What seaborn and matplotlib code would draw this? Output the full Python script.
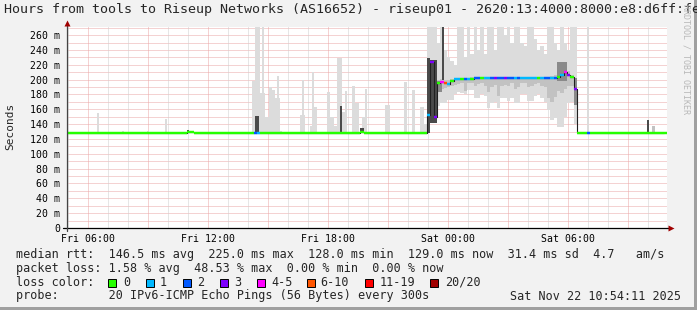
import numpy as np
import pandas as pd
import matplotlib
matplotlib.use("Agg")
import matplotlib.pyplot as plt
from matplotlib.patches import Rectangle
import matplotlib.dates as mdates
import seaborn as sns

sns.set_style("white")
plt.rcParams['font.family'] = ['DejaVu Sans Mono', 'DejaVu Sans']
plt.rcParams['lines.scale_dashes'] = False

# ---------------- data ----------------
start_time = "2025-11-21 04:58"
span_hours = 30

# median rtt (ms), one value per 10 minutes
median_ms = [
    127.5, 127.5, 127.5, 127.5, 127.5, 127.5, 127.5, 127.5, 127.5, 127.5,
    127.5, 127.5, 127.5, 127.5, 127.5, 127.5, 127.5, 127.5, 127.5, 127.5,
    127.5, 127.5, 127.5, 127.5, 127.5, 127.5, 127.5, 127.5, 127.5, 127.5,
    127.5, 127.5, 127.5, 127.5, 127.5, 127.5, 129, 130, 128, 127.5,
    127.5, 127.5, 127.5, 127.5, 127.5, 127.5, 127.5, 127.5, 127.5, 127.5,
    127.5, 127.5, 127.5, 128, 128, 128, 128, 128, 128, 128,
    128, 128, 128, 128, 128, 128, 128, 128, 128, 128,
    128, 128, 128, 128, 128, 128, 128, 128, 128, 128,
    128, 128, 128, 128, 128, 128, 128, 128, 130, 128,
    128, 128, 128, 128, 128, 128, 128, 128, 128, 128,
    128, 128, 128, 128, 128, 128, 128, 128, 152, 224,
    150, 195, 197, 195, 194, 198, 201, 201, 201, 201,
    201, 201, 202, 202, 202, 202, 202, 202, 202, 202,
    202, 202, 202, 202, 202, 202, 202, 202, 202, 202,
    202, 202, 202, 202, 202, 202, 202, 203, 206, 211,
    206, 203, 188, 128, 128, 128, 128, 128, 128, 128,
    128, 128, 128, 128, 128, 128, 128, 128, 128, 128,
    128, 128, 128, 128, 128, 128, 128, 128, 128, 128,
]

# lost pings (out of 20) per 10 minutes
loss_count = [
    0, 0, 0, 0, 0, 0, 0, 0, 0, 0,
    0, 0, 0, 0, 0, 0, 0, 0, 0, 0,
    0, 0, 0, 0, 0, 0, 0, 0, 0, 0,
    0, 0, 0, 0, 0, 0, 0, 0, 0, 0,
    0, 0, 0, 0, 0, 0, 0, 0, 0, 0,
    0, 0, 0, 0, 0, 0, 2, 1, 0, 0,
    0, 0, 0, 0, 0, 0, 0, 0, 0, 0,
    0, 0, 0, 0, 0, 0, 0, 0, 0, 0,
    0, 0, 0, 0, 0, 0, 0, 0, 0, 0,
    0, 0, 0, 0, 0, 0, 0, 0, 0, 0,
    0, 0, 0, 0, 0, 0, 0, 0, 1, 3,
    3, 0, 4, 6, 1, 0, 1, 1, 0, 2,
    1, 0, 2, 2, 0, 1, 1, 2, 3, 2,
    2, 3, 2, 2, 1, 2, 1, 1, 1, 1,
    1, 0, 1, 2, 2, 1, 2, 0, 1, 4,
    3, 0, 3, 0, 0, 0, 2, 0, 0, 0,
    0, 0, 0, 0, 0, 0, 0, 0, 0, 0,
    0, 0, 0, 0, 0, 0, 0, 0, 0, 0,
]

# smoke columns: (5-minute slot, number of slots, low ms, high ms)
smoke_light = [
    (18, 1, 128, 155), (33, 1, 128, 131), (48, 1, 128, 131), (59, 1, 128, 147),
    (73, 3, 128, 131), (91, 1, 128, 130), (111, 2, 128, 198), (113, 2, 128, 275),
    (115, 1, 128, 275), (116, 1, 128, 182), (117, 1, 128, 275), (118, 1, 128, 182),
    (119, 2, 128, 150), (121, 2, 128, 190), (123, 2, 128, 186), (125, 1, 128, 175),
    (126, 1, 128, 205), (127, 1, 128, 175), (128, 1, 128, 131), (140, 1, 128, 152),
    (141, 1, 128, 200), (142, 1, 128, 152), (146, 1, 128, 138), (147, 1, 128, 211),
    (148, 2, 128, 163), (156, 2, 128, 183), (158, 2, 128, 150), (160, 2, 128, 138),
    (162, 3, 128, 229), (165, 2, 128, 156), (167, 1, 128, 185), (171, 2, 128, 191),
    (173, 2, 128, 168), (177, 2, 128, 150), (179, 1, 128, 188), (191, 3, 128, 166),
    (202, 2, 128, 197), (207, 2, 128, 186), (212, 2, 128, 163), (214, 2, 128, 140),
    (216, 2, 128, 275), (218, 2, 145, 275), (220, 2, 160, 275), (222, 2, 165, 250),
    (224, 2, 168, 275), (226, 2, 168, 240), (228, 2, 172, 230), (230, 2, 172, 225),
    (232, 2, 180, 220), (234, 2, 184, 275), (236, 2, 182, 275), (238, 2, 180, 230),
    (240, 2, 186, 275), (242, 2, 186, 235), (244, 2, 175, 275), (246, 2, 175, 240),
    (248, 2, 180, 275), (250, 2, 178, 235), (252, 2, 162, 275), (254, 2, 168, 275),
    (256, 2, 170, 240), (258, 2, 162, 275), (260, 2, 175, 275), (262, 2, 175, 260),
    (264, 2, 171, 275), (266, 2, 175, 250), (268, 2, 168, 275), (270, 2, 168, 275),
    (272, 2, 180, 250), (274, 2, 180, 245), (276, 2, 171, 275), (278, 2, 171, 275),
    (280, 2, 178, 255), (282, 2, 180, 240), (284, 2, 175, 245), (286, 2, 170, 235),
    (288, 2, 159, 275), (290, 2, 145, 275), (292, 2, 148, 250), (294, 2, 136, 240),
    (296, 2, 136, 275), (298, 2, 150, 250), (300, 2, 168, 240), (302, 2, 170, 275),
    (304, 2, 140, 275), (312, 1, 128, 275), (338, 1, 128, 130),
]

smoke_mid = [
    (222, 2, 186, 200), (224, 2, 188, 201), (226, 2, 189, 200), (228, 2, 190, 200),
    (230, 2, 191, 201), (232, 2, 193, 201), (234, 2, 194, 202), (236, 2, 195, 202),
    (238, 2, 185, 202), (240, 2, 195, 202), (242, 2, 195, 203), (244, 2, 192, 203),
    (246, 2, 194, 203), (248, 2, 195, 203), (250, 2, 192, 203), (252, 2, 184, 203),
    (254, 2, 190, 203), (256, 2, 193, 203), (258, 2, 178, 203), (260, 2, 192, 203),
    (262, 2, 193, 203), (264, 2, 191, 203), (266, 2, 195, 203), (268, 2, 188, 203),
    (270, 2, 190, 203), (272, 2, 195, 203), (274, 2, 195, 203), (276, 2, 190, 203),
    (278, 2, 192, 203), (280, 2, 194, 203), (282, 2, 195, 203), (284, 2, 192, 203),
    (286, 2, 190, 204), (288, 2, 175, 204), (290, 2, 170, 205), (292, 2, 176, 206),
    (294, 2, 185, 208), (296, 2, 182, 214), (298, 2, 188, 218), (300, 2, 192, 212),
    (302, 2, 192, 206), (351, 2, 128, 137),
]

smoke_dark = [
    (45, 1, 127, 130), (72, 1, 128, 132), (113, 2, 128, 151), (164, 1, 128, 165),
    (176, 2, 128, 135), (216, 2, 128, 229), (218, 4, 141, 226), (225, 1, 200, 275),
    (348, 1, 128, 145),
]

smoke_peak = [
    (222, 3, 184, 198), (294, 6, 198, 224), (304, 2, 166, 202),
]

# loss colour legend
loss_labels = ["0", "1", "2", "3", "4-5", "6-10", "11-19", "20/20"]
loss_upper = [0, 1, 2, 3, 5, 10, 19, 20]
loss_colors = ["#26ff00", "#00b8ff", "#0059ff", "#7e00ff",
               "#ff00ff", "#ff5500", "#ff0000", "#a10000"]

y_ticks = [0, 20, 40, 60, 80, 100, 120, 140, 160, 180, 200, 220, 240, 260]
x_tick_labels = ["Fri 06:00", "Fri 12:00", "Fri 18:00", "Sat 00:00", "Sat 06:00"]
x_tick_times = ["2025-11-21 06:00", "2025-11-21 12:00", "2025-11-21 18:00",
                "2025-11-22 00:00", "2025-11-22 06:00"]

# ---------------- figure ----------------
W, H = 697, 310
fig = plt.figure(figsize=(W / 100, H / 100), dpi=100, facecolor="#f2f2f2")
ax = fig.add_axes([67 / W, 82 / H, 600 / W, 201 / H])
ax.set_facecolor("white")

t0 = pd.Timestamp(start_time)
x0 = mdates.date2num(t0.to_pydatetime())
x1 = mdates.date2num((t0 + pd.Timedelta(hours=span_hours)).to_pydatetime())
slot5 = 5 / 1440.0
slot10 = 10 / 1440.0
times = pd.date_range(t0, periods=len(median_ms), freq="10min")
tnum = mdates.date2num(times.to_pydatetime())

ax.set_xlim(x0, x1)
ax.set_ylim(0, 271)

# grid (fine dotted lines: 1px on / 1px off)
grid_major = "#eba7a7"
grid_minor = "#cfcfcf"
dots = (0, (0.72, 0.72))
for v in range(10, 271, 10):
    ax.axhline(v, color=grid_major, lw=0.72, ls=dots, zorder=1)
hours = pd.date_range("2025-11-21 05:00", "2025-11-22 10:00", freq="1h")
for h in hours:
    xv = mdates.date2num(h.to_pydatetime())
    col = grid_major if h.hour % 3 == 0 else grid_minor
    ax.axvline(xv, color=col, lw=0.72, ls=dots, zorder=1)


def draw_smoke(cols, color, z):
    arr = np.array(cols, dtype=float)
    xs = x0 + arr[:, 0] * slot5
    ax.bar(xs, arr[:, 3] - arr[:, 2], bottom=arr[:, 2], width=arr[:, 1] * slot5,
           align="edge", color=color, linewidth=0, zorder=z)


draw_smoke(smoke_light, "#dcdcdc", 2)
draw_smoke(smoke_mid, "#c2c2c2", 2.5)
draw_smoke(smoke_peak, "#8a8a8a", 2.8)
draw_smoke(smoke_dark, "#4a4a4a", 3)

# median: thin dark step line, then loss-coloured segments
df = pd.DataFrame({"t": tnum, "median": median_ms})
sns.lineplot(data=df, x="t", y="median", drawstyle="steps-post",
             color="#202020", linewidth=0.8, ax=ax, zorder=4)


def loss_color(n):
    for ub, c in zip(loss_upper, loss_colors):
        if n <= ub:
            return c
    return loss_colors[-1]


seg_colors = [loss_color(n) for n in loss_count]
ax.hlines(median_ms, tnum, tnum + slot10, colors=seg_colors, linewidth=1.75,
          zorder=5)

# axes styling
for s in ax.spines.values():
    s.set_visible(False)
ax.set_xlabel("")
ax.set_ylabel("")

major_x = [mdates.date2num(h.to_pydatetime()) for h in hours if h.hour % 3 == 0]
minor_x = [mdates.date2num(h.to_pydatetime()) for h in hours if h.hour % 3 != 0]
ax.set_xticks(major_x)
lab_map = {mdates.date2num(pd.Timestamp(t).to_pydatetime()): l
           for t, l in zip(x_tick_times, x_tick_labels)}
ax.set_xticklabels([lab_map.get(v, "") for v in major_x])
ax.set_xticks(minor_x, minor=True)
ax.tick_params(axis="x", which="major", length=3, width=0.7, color="#d04040",
               pad=1.5, labelsize=7.1, labelcolor="black")
ax.tick_params(axis="x", which="minor", length=2, width=0.7, color="#c8c8c8")

ax.set_yticks(y_ticks)
ax.set_yticklabels([("0" if v == 0 else f"{v} m") for v in y_ticks])
ax.tick_params(axis="y", which="major", length=2, width=0.7, color="#555555",
               pad=3, labelsize=7.1, labelcolor="black")

# axis lines with arrow heads
ax.plot([-0.007, 1.003], [0, 0], transform=ax.transAxes, color="black",
        lw=0.9, clip_on=False, zorder=6)
ax.plot([1.006], [0], marker=">", ms=4.5, color="#a00000",
        transform=ax.transAxes, clip_on=False, zorder=6, mec="none")
ax.plot([0, 0], [-0.015, 1.01], transform=ax.transAxes, color="#444444",
        lw=0.9, clip_on=False, zorder=6)
ax.plot([0], [1.02], marker="^", ms=4.5, color="#a00000",
        transform=ax.transAxes, clip_on=False, zorder=6, mec="none")

# ---------------- texts ----------------
def fx(px):
    return px / W


def fy(py):
    return (H - py) / H


fig.text(fx(4), fy(10), "Hours from tools to Riseup Networks (AS16652) - riseup01 - "
         "2620:13:4000:8000:e8:d6ff:fe", fontsize=9.6, va="center", ha="left")
fig.text(fx(10), fy(126), "Seconds", rotation=90, fontsize=8, va="center",
         ha="center")
fig.text(fx(686), fy(4), "RRDTOOL / TOBI OETIKER", rotation=270, fontsize=6,
         color="#b8b8b8", va="top", ha="center")

fs = 8.5
fig.text(fx(16), fy(254.3), "median rtt:  146.5 ms avg  225.0 ms max  128.0 ms min  "
         "129.0 ms now  31.4 ms sd  4.7   am/s", fontsize=fs, va="center")
fig.text(fx(16), fy(268.3), "packet loss: 1.58 % avg  48.53 % max  0.00 % min  "
         "0.00 % now", fontsize=fs, va="center")
fig.text(fx(16), fy(282.3), "loss color:", fontsize=fs, va="center")
box_x = [108, 146, 183, 220, 257, 307, 365, 430]
lab_x = [123, 160, 197, 234, 271, 320, 380, 445]
for bx, lx, lab, c in zip(box_x, lab_x, loss_labels, loss_colors):
    fig.patches.append(Rectangle((fx(bx), fy(286.5)), 8 / W, 8 / H,
                                 transform=fig.transFigure, facecolor=c,
                                 edgecolor="black", linewidth=0.7))
    fig.text(fx(lx), fy(282.3), lab, fontsize=fs, va="center")
fig.text(fx(16), fy(296), "probe:       20 IPv6-ICMP Echo Pings (56 Bytes) every 300s",
         fontsize=fs, va="center")
fig.text(fx(681), fy(296), "Sat Nov 22 10:54:11 2025", fontsize=fs, va="center",
         ha="right")

# frame
fig.patches.append(Rectangle((fx(694), 0), 3 / W, 1, transform=fig.transFigure,
                             facecolor="#a0a0a0", edgecolor="none"))
fig.patches.append(Rectangle((0, 0), 1, 3 / H, transform=fig.transFigure,
                             facecolor="#a0a0a0", edgecolor="none"))

fig.savefig("out.png", dpi=100, facecolor=fig.get_facecolor())
